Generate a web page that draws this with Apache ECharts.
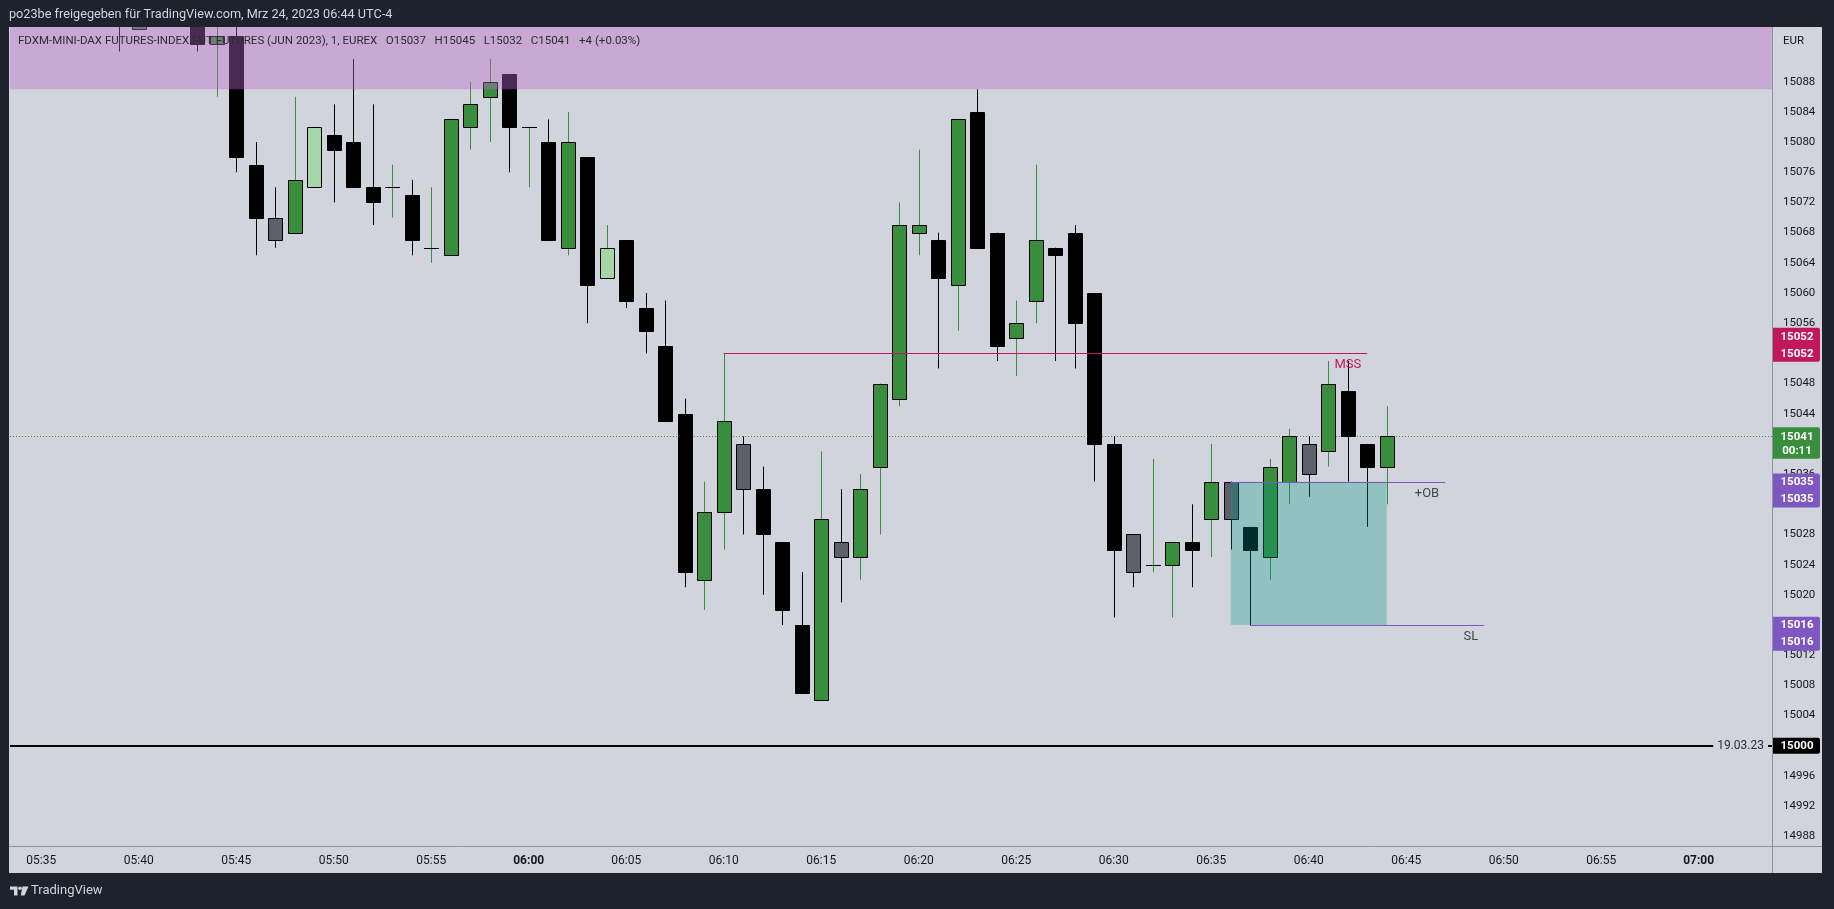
<!DOCTYPE html>
<html><head><meta charset="utf-8">
<script src="https://cdn.jsdelivr.net/npm/echarts@6/dist/echarts.min.js"></script>
<style>html,body{margin:0;padding:0;background:#1e222d;overflow:hidden}#c{width:1834px;height:909px}</style>
</head><body><div id="c"></div><script>
// ---------- DATA ----------
const times  = ['05:39','05:40','05:43','05:44','05:45','05:46','05:47','05:48','05:49','05:50','05:51','05:52','05:53','05:54','05:55','05:56','05:57','05:58','05:59','06:00','06:01','06:02','06:03','06:04','06:05','06:06','06:07','06:08','06:09','06:10','06:11','06:12','06:13','06:14','06:15','06:16','06:17','06:18','06:19','06:20','06:21','06:22','06:23','06:24','06:25','06:26','06:27','06:28','06:29','06:30','06:31','06:32','06:33','06:34','06:35','06:36','06:37','06:38','06:39','06:40','06:41','06:42','06:43','06:44'];
const opens  = [15100,15095,15097,15093,15094,15077,15070,15068,15074,15081,15080,15074,15074,15073,15066,15065,15082,15086,15089,15082,15080,15066,15078,15062,15067,15058,15053,15044,15022,15031,15040,15034,15027,15016,15006,15027,15025,15037,15046,15068,15067,15061,15084,15068,15054,15059,15066,15068,15060,15040,15028,15024,15024,15027,15030,15035,15029,15025,15035,15040,15039,15047,15040,15037];
const highs  = [15101,15100,15098,15096,15096,15080,15074,15086,15082,15085,15091,15085,15077,15075,15074,15083,15088,15091,15089,15082,15083,15084,15078,15069,15067,15060,15059,15046,15035,15052,15041,15037,15027,15023,15039,15034,15036,15048,15072,15079,15068,15083,15087,15068,15059,15077,15066,15069,15060,15041,15028,15038,15027,15032,15040,15035,15029,15038,15042,15041,15051,15051,15040,15045];
const lows   = [15092,15095,15092,15086,15076,15065,15066,15068,15074,15072,15074,15069,15070,15065,15064,15065,15079,15080,15076,15074,15067,15065,15056,15062,15058,15052,15043,15021,15018,15026,15028,15020,15016,15007,15006,15019,15022,15028,15045,15065,15050,15055,15066,15051,15049,15056,15051,15050,15035,15017,15021,15023,15017,15021,15025,15026,15016,15022,15032,15033,15037,15035,15029,15032];
const closes = [15096,15099,15093,15094,15078,15070,15067,15075,15082,15079,15074,15072,15074,15067,15066,15083,15085,15088,15082,15082,15067,15080,15061,15066,15059,15055,15043,15023,15031,15043,15034,15028,15018,15007,15030,15025,15034,15048,15069,15069,15062,15083,15066,15053,15056,15067,15065,15056,15040,15026,15023,15024,15027,15026,15035,15030,15026,15037,15041,15036,15048,15041,15037,15041];
// bar colouring of the chart: up / down / weak (light green) / inside (grey)
const kinds  = ['down','up','down','up','down','down','inside','up','weak','down','down','down','up','down','up','up','up','up','down','up','down','up','down','weak','down','down','down','down','up','up','inside','down','down','down','up','inside','up','up','up','up','down','up','down','down','up','up','down','down','down','down','inside','up','up','down','up','inside','down','up','up','inside','up','down','down','up'];

const priceTicks = [14988,14992,14996,15000,15004,15008,15012,15016,15020,15024,15028,15032,15036,15040,15044,15048,15052,15056,15060,15064,15068,15072,15076,15080,15084,15088];
const timeTicks  = ['05:35','05:40','05:45','05:50','05:55','06:00','06:05','06:10','06:15','06:20','06:25','06:30','06:35','06:40','06:45','06:50','06:55','07:00'];

const zonePrice   = [15087, 15110];          // supply zone (top beyond view)
const obBoxTime   = ['06:36', '06:44'];
const obBoxPrice  = [15016, 15035];
const levelNames  = ['MSS', '+OB', 'SL'];
const levelValues = [15052, 15035, 15016];
const levelStart  = ['06:10', '06:36', '06:37'];
const levelEnd    = ['06:43', '06:47', '06:49'];
const dailyLevel  = 15000;
const dailyDate   = '19.03.23';
const lastPrice   = 15041;
const countdown   = '00:11';
const tagPrices   = [15052, 15041, 15035, 15016, 15000];

const headerText = 'po23be freigegeben für TradingView.com, Mrz 24, 2023 06:44 UTC-4';
const symbolText = 'FDXM-MINI-DAX FUTURES-INDEX FUT FUTURES (JUN 2023), 1, EUREX';

// ---------- helpers ----------
const toMin = s => { const p = s.split(':').map(Number); return (p[0] - 6) * 60 + p[1]; };
const fmtMin = v => { const t = Math.round(v) + 360; const h = Math.floor(t / 60), m = t % 60; return String(h).padStart(2,'0') + ':' + String(m).padStart(2,'0'); };

const candleData = times.map((t, i) => [toMin(t), opens[i], highs[i], lows[i], closes[i]]);
const n = closes.length;
const chg = closes[n-1] - closes[n-2];
const GAP = '   ';
const legendText = symbolText + GAP + 'O' + opens[n-1] + GAP + 'H' + highs[n-1] + GAP + 'L' + lows[n-1] + GAP + 'C' + closes[n-1] +
  GAP + (chg >= 0 ? '+' : '') + chg + ' (' + (chg >= 0 ? '+' : '') + (chg / closes[n-2] * 100).toFixed(2) + '%)';

const KIND = {
  up:     { fill: '#388e3c', border: '#000000', wick: '#388e3c' },
  down:   { fill: '#000000', border: '#000000', wick: '#000000' },
  weak:   { fill: '#a5d6a7', border: '#000000', wick: '#388e3c' },
  inside: { fill: '#5d606b', border: '#000000', wick: '#000000' }
};
const LEVEL_COLORS = ['#c2185b', '#7e57c2', '#7e57c2'];
const LEVEL_TEXT   = ['#c2185b', '#434651', '#434651'];
const BG = '#d1d4dc';
const FONT = 'Roboto';

const chart = echarts.init(document.getElementById('c'), null, { width: 1834, height: 909 });

const option = {
  backgroundColor: '#1e222d',
  animation: false,
  grid: { left: 10, top: 27, width: 1762, height: 820, show: false },
  xAxis: {
    type: 'value', min: -26.6, max: 63.76,
    axisLine: { show: false }, axisTick: { show: false }, splitLine: { show: false },
    axisLabel: {
      customValues: timeTicks.map(toMin), margin: 8,
      color: '#131722', fontFamily: FONT, fontSize: 12,
      formatter: v => (v % 60 === 0 ? '{b|' + fmtMin(v) + '}' : fmtMin(v)),
      rich: { b: { fontWeight: 'bold', fontFamily: FONT, fontSize: 12, color: '#131722' } }
    }
  },
  yAxis: {
    type: 'value', position: 'right', min: 14986.58, max: 15095.25,
    axisLine: { show: false }, axisTick: { show: false }, splitLine: { show: false },
    axisLabel: {
      customValues: priceTicks, margin: 11, color: '#131722',
      fontFamily: FONT, fontSize: 11.5, formatter: v => String(v)
    }
  },
  graphic: [
    { type: 'rect', z: -10, shape: { x: 9, y: 27, width: 1813, height: 846 }, style: { fill: BG } },
    { type: 'line', z: 50, shape: { x1: 1772.5, y1: 27, x2: 1772.5, y2: 873 }, style: { stroke: '#8f929c', lineWidth: 1 } },
    { type: 'line', z: 50, shape: { x1: 9, y1: 846.5, x2: 1822, y2: 846.5 }, style: { stroke: '#8f929c', lineWidth: 1 } },
    { type: 'rect', z: 50, shape: { x: 1773, y: 27, width: 49, height: 20 }, style: { fill: BG } },
    { type: 'text', z: 51, style: { text: 'EUR', x: 1783, y: 41, fill: '#131722', font: '11.5px ' + FONT, verticalAlign: 'middle', textVerticalAlign: 'middle' } },
    { type: 'text', z: 51, style: { text: headerText, x: 9, y: 15, fill: '#d1d4dc', font: '12.7px ' + FONT, verticalAlign: 'middle', textVerticalAlign: 'middle' } },
    { type: 'text', z: 51, style: { text: legendText, x: 18, y: 41.5, fill: '#2e2b36', font: '11.5px ' + FONT, verticalAlign: 'middle', textVerticalAlign: 'middle' } },
    { type: 'polygon', z: 51, shape: { points: [[10,886.5],[17.5,886.5],[17.5,895.5],[14,895.5],[14,889.8],[10,889.8]] }, style: { fill: '#d1d4dc' } },
    { type: 'circle', z: 51, shape: { cx: 20, cy: 888.3, r: 1.8 }, style: { fill: '#d1d4dc' } },
    { type: 'polygon', z: 51, shape: { points: [[22.5,886.5],[28.5,886.5],[24.5,895.5],[20.8,895.5]] }, style: { fill: '#d1d4dc' } },
    { type: 'text', z: 51, style: { text: 'TradingView', x: 31, y: 891, fill: '#d1d4dc', font: '13px ' + FONT, verticalAlign: 'middle', textVerticalAlign: 'middle' } }
  ],
  series: [
    { // last price dotted line (behind candles)
      type: 'custom', z: 2, clip: true, silent: true,
      data: [[0, lastPrice]], encode: { x: 0, y: 1 },
      renderItem: (params, api) => {
        const cs = params.coordSys; const y = Math.round(api.coord([0, api.value(1)])[1]) + 0.5;
        return { type: 'line', shape: { x1: cs.x, y1: y, x2: cs.x + cs.width, y2: y },
                 style: { stroke: '#388e3c', lineWidth: 1, lineDash: [1, 2] } };
      }
    },
    { // candles
      type: 'custom', z: 3, clip: true, silent: true,
      data: candleData, encode: { x: 0, y: [1, 2, 3, 4] },
      renderItem: (params, api) => {
        const t = api.value(0), o = api.value(1), h = api.value(2), l = api.value(3), c = api.value(4);
        const st = KIND[kinds[params.dataIndex]];
        const pO = api.coord([t, o]), pC = api.coord([t, c]), pH = api.coord([t, h]), pL = api.coord([t, l]);
        const cx = Math.round(pO[0]);
        const top = Math.round(Math.min(pO[1], pC[1])), bot = Math.round(Math.max(pO[1], pC[1]));
        const children = [{ type: 'line', shape: { x1: cx + 0.5, y1: pH[1], x2: cx + 0.5, y2: pL[1] }, style: { stroke: st.wick, lineWidth: 1 } }];
        if (bot - top < 1) {
          children.push({ type: 'line', shape: { x1: cx - 7, y1: top + 0.5, x2: cx + 8, y2: top + 0.5 }, style: { stroke: st.border, lineWidth: 1 } });
        } else {
          children.push({ type: 'rect', shape: { x: cx - 6.5, y: top + 0.5, width: 14, height: bot - top }, style: { fill: st.fill, stroke: st.border, lineWidth: 1 } });
        }
        return { type: 'group', children };
      }
    },
    { // supply zone
      type: 'custom', z: 4, clip: true, silent: true,
      data: [[0, zonePrice[0], zonePrice[1]]], encode: { x: 0, y: [1, 2] },
      renderItem: (params, api) => {
        const cs = params.coordSys;
        const yb = api.coord([0, api.value(1)])[1], yt = api.coord([0, api.value(2)])[1];
        return { type: 'rect', shape: { x: cs.x, y: yt, width: cs.width, height: yb - yt }, style: { fill: 'rgba(186,104,200,0.4)' } };
      }
    },
    { // order block box
      type: 'custom', z: 4, clip: true, silent: true,
      data: [[toMin(obBoxTime[0]), toMin(obBoxTime[1]), obBoxPrice[0], obBoxPrice[1]]], encode: { x: [0, 1], y: [2, 3] },
      renderItem: (params, api) => {
        const p1 = api.coord([api.value(0), api.value(3)]), p2 = api.coord([api.value(1), api.value(2)]);
        return { type: 'rect', shape: { x: p1[0], y: p1[1], width: p2[0] - p1[0], height: p2[1] - p1[1] }, style: { fill: 'rgba(0,150,136,0.3)' } };
      }
    },
    { // MSS / OB / SL lines
      type: 'custom', z: 5, clip: false, silent: true,
      data: levelValues.map((v, i) => [toMin(levelStart[i]), toMin(levelEnd[i]), v]), encode: { x: [0, 1], y: 2 },
      renderItem: (params, api) => {
        const i = params.dataIndex;
        const a = api.coord([api.value(0), api.value(2)]), b = api.coord([api.value(1), api.value(2)]);
        const y = Math.round(a[1]) + 0.5;
        return { type: 'group', children: [
          { type: 'line', shape: { x1: a[0], y1: y, x2: b[0], y2: y }, style: { stroke: LEVEL_COLORS[i], lineWidth: 1 } },
          { type: 'text', style: { text: levelNames[i], x: b[0] - 6, y: y + 11, fill: LEVEL_TEXT[i], font: '13px ' + FONT,
              align: 'right', verticalAlign: 'middle', textAlign: 'right', textVerticalAlign: 'middle' } }
        ] };
      }
    },
    { // daily level 15000
      type: 'custom', z: 5, clip: false, silent: true,
      data: [[0, dailyLevel]], encode: { x: 0, y: 1 },
      renderItem: (params, api) => {
        const cs = params.coordSys; const y = Math.round(api.coord([0, api.value(1)])[1]);
        const xr = cs.x + cs.width;
        return { type: 'group', children: [
          { type: 'line', shape: { x1: cs.x, y1: y, x2: xr, y2: y }, style: { stroke: '#000000', lineWidth: 2 } },
          { type: 'text', style: { text: dailyDate, x: xr - 4, y: y, fill: '#2a2e39', font: '12px ' + FONT,
              backgroundColor: BG, padding: [2, 4, 2, 4],
              align: 'right', verticalAlign: 'middle', textAlign: 'right', textVerticalAlign: 'middle' } }
        ] };
      }
    },
    { // price tags on the axis
      type: 'custom', z: 20, clip: false, silent: true,
      data: tagPrices.map(v => [0, v]), encode: { x: 0, y: 1 },
      renderItem: (params, api) => {
        const i = params.dataIndex;
        const cs = params.coordSys; const x0 = cs.x + cs.width;
        const v = api.value(1); const y = api.coord([0, v])[1];
        const spec = [
          { color: '#c2185b', lines: [String(v), String(v)], top: -25.5, step: 17 },
          { color: '#388e3c', lines: [String(v), countdown], top: -9, step: 14 },
          { color: '#7e57c2', lines: [String(v), String(v)], top: -8.2, step: 17 },
          { color: '#7e57c2', lines: [String(v), String(v)], top: -8.2, step: 17 },
          { color: '#000000', lines: [String(v)], top: -8, step: 16 }
        ][i];
        const h = spec.lines.length === 1 ? 16 : (spec.step === 14 ? 31.5 : 34);
        const firstY = spec.top < -20 ? y - 17 : y;
        const children = [{ type: 'rect', shape: { x: x0, y: y + spec.top, width: 48, height: h, r: [0, 2, 2, 0] }, style: { fill: spec.color } }];
        spec.lines.forEach((s, k) => children.push({ type: 'text', style: { text: s, x: x0 + 25, y: firstY + k * spec.step + 0.5,
          fill: '#ffffff', font: 'bold 11.5px ' + FONT, align: 'center', verticalAlign: 'middle', textAlign: 'center', textVerticalAlign: 'middle' } }));
        return { type: 'group', children };
      }
    }
  ]
};
chart.setOption(option);
</script></body></html>
